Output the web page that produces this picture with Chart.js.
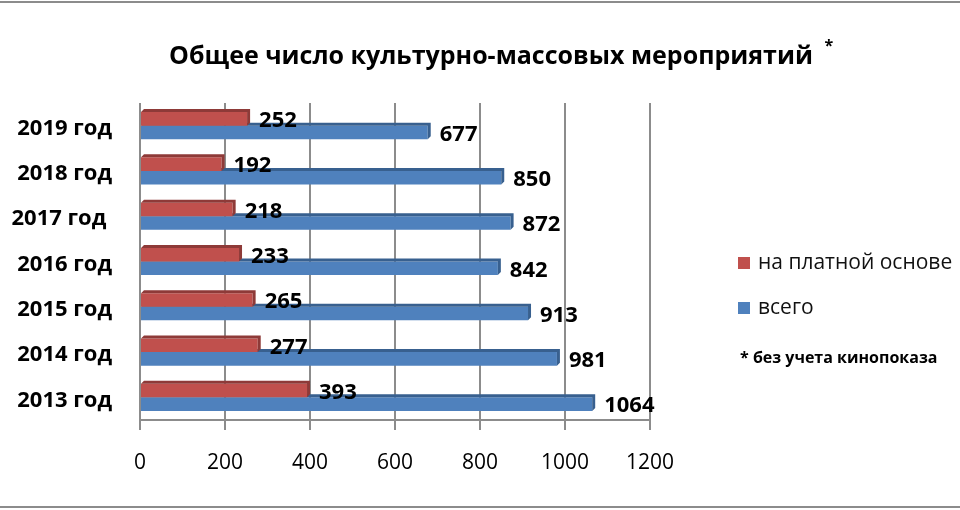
<!DOCTYPE html>
<html>
<head>
<meta charset="utf-8">
<script src="https://cdn.jsdelivr.net/npm/chart.js@4.4.1/dist/chart.umd.min.js"></script>
<style>
  html, body { margin: 0; padding: 0; background: #fff; }
  #wrap { width: 960px; height: 510px; }
</style>
</head>
<body>
<div id="wrap"><canvas id="eventsChart" width="960" height="510"></canvas></div>
<script>
// top to bottom, as on the picture
const years = ['2019 год', '2018 год', '2017 год ', '2016 год', '2015 год', '2014 год', '2013 год'];
const paid = [252, 192, 218, 233, 265, 277, 393];
const total = [677, 850, 872, 842, 913, 981, 1064];
const xTicks = [0, 200, 400, 600, 800, 1000, 1200];
const seriesNames = ['на платной основе', 'всего'];
const chartTitle = 'Общее число культурно-массовых мероприятий';
const footnote = '* без учета кинопоказа';

const FONT = '"Open Sans", "Noto Sans", sans-serif';
const shade = ['#8e3a38', '#38608f'];

// fake 3D faces, value labels, title and legend
const deco = {
  id: 'deco',
  beforeDraw(chart) {
    const ctx = chart.ctx;
    ctx.save();
    ctx.fillStyle = '#8c8c8c';
    ctx.fillRect(0, 1, chart.width, 2);
    ctx.fillRect(0, 506, chart.width, 2);
    ctx.restore();
  },
  afterDatasetDraw(chart, args) {
    const ctx = chart.ctx;
    const d = 3;
    ctx.save();
    ctx.fillStyle = shade[args.index];
    args.meta.data.forEach(bar => {
      const { x, y, base, height } = bar.getProps(['x', 'y', 'base', 'height'], true);
      const top = y - height / 2, bottom = y + height / 2;
      ctx.beginPath();
      ctx.moveTo(base, top);
      ctx.lineTo(base + d, top - d);
      ctx.lineTo(x + d, top - d);
      ctx.lineTo(x + d, bottom - d);
      ctx.lineTo(x, bottom);
      ctx.lineTo(x, top);
      ctx.closePath();
      ctx.fill();
    });
    ctx.restore();
  },
  afterDatasetsDraw(chart) {
    const ctx = chart.ctx;
    ctx.save();
    ctx.font = 'bold 22px ' + FONT;
    ctx.fillStyle = '#000';
    ctx.textAlign = 'left';
    ctx.textBaseline = 'middle';
    chart.data.datasets.forEach((ds, i) => {
      chart.getDatasetMeta(i).data.forEach((bar, j) => {
        ctx.fillText(String(ds.data[j]), bar.x + 12, bar.y + 2);
      });
    });
    ctx.restore();
  },
  afterDraw(chart) {
    const ctx = chart.ctx;
    ctx.save();
    ctx.fillStyle = '#000';
    ctx.textBaseline = 'middle';
    // title
    ctx.font = 'bold 25px ' + FONT;
    ctx.textAlign = 'center';
    const cx = 491;
    ctx.fillText(chartTitle, cx, 57);
    const w = ctx.measureText(chartTitle).width;
    ctx.font = 'bold 16px ' + FONT;
    ctx.fillText('*', cx + w / 2 + 16, 46);
    // legend
    ctx.textAlign = 'left';
    ctx.font = '21px ' + FONT;
    chart.data.datasets.forEach((ds, i) => {
      ctx.fillStyle = ds.backgroundColor;
      ctx.fillRect(738, 257 + i * 45, 12, 12);
      ctx.fillStyle = '#111';
      ctx.fillText(ds.label, 758, 263 + i * 45);
    });
    ctx.font = 'bold 16px ' + FONT;
    ctx.fillStyle = '#000';
    ctx.fillText(footnote, 740, 358);
    ctx.restore();
  }
};

const ctx = document.getElementById('eventsChart').getContext('2d');

new Chart(ctx, {
  type: 'bar',
  data: {
    labels: years,
    datasets: [{
      label: seriesNames[0],
      data: paid,
      backgroundColor: '#c0504d',
      borderWidth: 0
    }, {
      label: seriesNames[1],
      data: total,
      backgroundColor: '#4f81bd',
      borderWidth: 0
    }]
  },
  options: {
    indexAxis: 'y',
    responsive: false,
    animation: false,
    categoryPercentage: 0.6,
    barPercentage: 1.0,
    layout: {
      padding: { top: 103, right: 310, bottom: 0, left: 0 }
    },
    plugins: {
      legend: { display: false },
      tooltip: { enabled: false }
    },
    scales: {
      x: {
        min: 0,
        max: 1200,
        afterBuildTicks: (scale) => { scale.ticks = xTicks.map(v => ({ value: v })); },
        afterFit: (scale) => { scale.height = 90; },
        grid: {
          color: '#8c8c8c',
          lineWidth: 2,
          tickLength: 10
        },
        border: { display: true, color: '#8c8c8c', width: 2 },
        ticks: {
          color: '#000',
          padding: 20,
          font: { family: FONT, size: 21 },
          callback: (v) => String(v)
        }
      },
      y: {
        afterFit: (scale) => { scale.width = 140; },
        grid: { display: false, drawTicks: false },
        border: { display: false },
        ticks: {
          color: '#000',
          padding: 28,
          labelOffset: 3,
          font: { family: FONT, size: 22, weight: 'bold' }
        }
      }
    }
  },
  plugins: [deco]
});
</script>
</body>
</html>
